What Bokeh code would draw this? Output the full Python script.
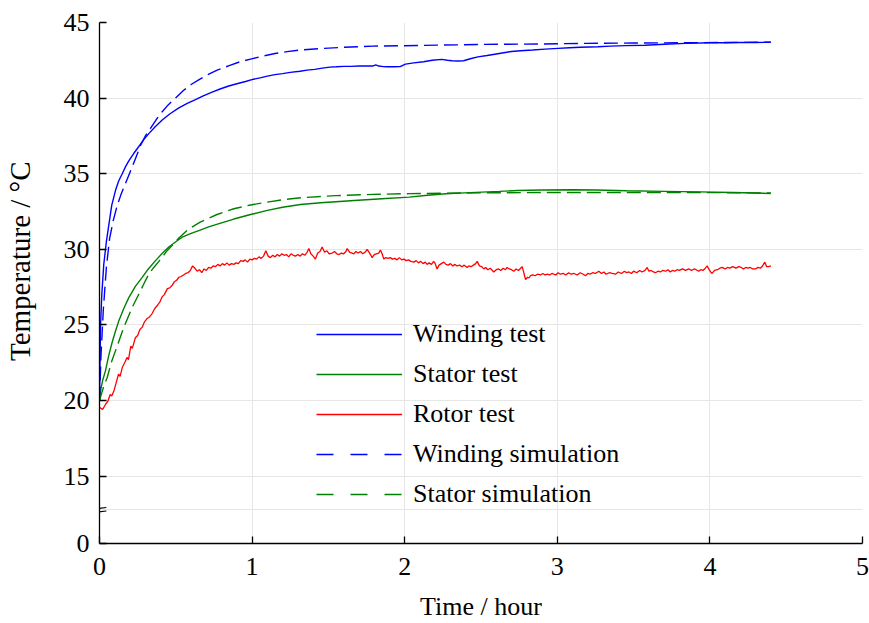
from bokeh.plotting import figure
from bokeh.models import Range1d, FixedTicker, Legend, LegendItem, ColumnDataSource, Arrow
from bokeh.embed import file_html
from bokeh.resources import INLINE

# ---------------- data ----------------
winding_test_t = [0, 0.003, 0.007, 0.015, 0.028, 0.045, 0.061, 0.08, 0.105, 0.125, 0.149, 0.17, 0.192,
                  0.225, 0.258, 0.29, 0.323, 0.365, 0.411, 0.46, 0.52, 0.575, 0.629, 0.68, 0.738, 0.79,
                  0.847, 0.9, 0.957, 1.01, 1.06, 1.1, 1.15, 1.2, 1.25, 1.314, 1.36, 1.41, 1.46, 1.51,
                  1.552, 1.6, 1.65, 1.7, 1.75, 1.79, 1.81, 1.83, 1.86, 1.886, 1.93, 1.97, 2.005, 2.06,
                  2.124, 2.18, 2.243, 2.28, 2.31, 2.35, 2.386, 2.43, 2.48, 2.54, 2.6, 2.648, 2.7, 2.76,
                  2.838, 2.92, 3.005, 3.08, 3.15, 3.267, 3.35, 3.45, 3.576, 3.7, 3.838, 4.005, 4.1, 4.2,
                  4.3, 4.398]
winding_test_v = [20.0, 22.5, 25.0, 27.0, 29.0, 30.5, 31.6, 32.9, 33.9, 34.5, 35.0, 35.45, 35.85,
                  36.35, 36.8, 37.25, 37.65, 38.1, 38.55, 38.95, 39.35, 39.65, 39.9, 40.15, 40.4, 40.6,
                  40.8, 40.95, 41.1, 41.25, 41.35, 41.45, 41.55, 41.62, 41.7, 41.78, 41.85, 41.9, 41.98,
                  42.05, 42.07, 42.1, 42.1, 42.12, 42.12, 42.12, 42.2, 42.12, 42.08, 42.07, 42.07, 42.08,
                  42.25, 42.33, 42.4, 42.5, 42.56, 42.5, 42.47, 42.45, 42.47, 42.6, 42.73, 42.82, 42.92,
                  43.0, 43.08, 43.13, 43.18, 43.24, 43.29, 43.33, 43.36, 43.4, 43.44, 43.47, 43.5, 43.56,
                  43.62, 43.66, 43.66, 43.68, 43.68, 43.69]

winding_sim_t = [0, 0.01, 0.025, 0.045, 0.066, 0.09, 0.116, 0.14, 0.17, 0.2, 0.236, 0.27, 0.301, 0.334,
                 0.37, 0.411, 0.45, 0.498, 0.55, 0.6, 0.65, 0.7, 0.771, 0.85, 0.92, 0.99, 1.07, 1.15,
                 1.23, 1.317, 1.45, 1.6, 1.79, 2.1, 2.505, 2.89, 3.2, 3.5, 3.8, 4.1, 4.4]
winding_sim_v = [20.0, 23.0, 26.0, 28.8, 30.7, 31.9, 32.9, 33.6, 34.35, 35.1, 36.0, 36.9, 37.5, 38.0,
                 38.55, 39.1, 39.55, 40.0, 40.5, 40.9, 41.2, 41.5, 41.85, 42.15, 42.4, 42.58, 42.78,
                 42.95, 43.07, 43.18, 43.28, 43.36, 43.44, 43.48, 43.55, 43.58, 43.62, 43.64, 43.66,
                 43.68, 43.7]

stator_test_t = [0, 0.008, 0.02, 0.039, 0.06, 0.083, 0.105, 0.126, 0.16, 0.192, 0.235, 0.28, 0.32,
                 0.367, 0.41, 0.454, 0.5, 0.542, 0.6, 0.651, 0.72, 0.8, 0.88, 0.99, 1.1, 1.2, 1.317,
                 1.45, 1.67, 1.85, 2.03, 2.15, 2.27, 2.39, 2.505, 2.62, 2.74, 2.9, 3.1, 3.25, 3.457,
                 3.7, 3.933, 4.15, 4.3, 4.398]
stator_test_v = [20.0, 20.7, 21.3, 21.96, 22.95, 23.85, 24.6, 25.25, 26.1, 26.8, 27.55, 28.14, 28.7,
                 29.25, 29.72, 30.15, 30.5, 30.8, 31.05, 31.24, 31.5, 31.75, 32.0, 32.3, 32.57, 32.78,
                 32.96, 33.08, 33.23, 33.34, 33.45, 33.57, 33.67, 33.73, 33.78, 33.83, 33.89, 33.92,
                 33.94, 33.92, 33.87, 33.83, 33.8, 33.76, 33.72, 33.69]

stator_sim_t = [0, 0.015, 0.03, 0.05, 0.08, 0.116, 0.159, 0.214, 0.258, 0.29, 0.323, 0.356, 0.389,
                0.443, 0.48, 0.52, 0.58, 0.66, 0.77, 0.88, 0.99, 1.1, 1.2, 1.317, 1.55, 1.79, 2.03,
                2.27, 2.6, 2.98, 3.4, 3.7, 4.0, 4.4]
stator_sim_v = [20.0, 20.5, 21.0, 21.5, 22.6, 23.6, 24.83, 26.15, 27.04, 27.7, 28.37, 28.8, 29.2,
                29.91, 30.3, 30.75, 31.3, 31.8, 32.3, 32.68, 32.93, 33.12, 33.28, 33.41, 33.55,
                33.63, 33.68, 33.71, 33.74, 33.76, 33.76, 33.76, 33.75, 33.72]

rotor_test_t = [0.0, 0.02, 0.04, 0.055, 0.07, 0.08, 0.095, 0.11, 0.125, 0.135, 0.15, 0.165, 0.18, 0.19,
                0.205, 0.215, 0.235, 0.25, 0.265, 0.28, 0.295, 0.31, 0.325, 0.345, 0.36, 0.38, 0.395,
                0.41, 0.425, 0.445, 0.46, 0.475, 0.49, 0.505, 0.52, 0.535, 0.55, 0.565, 0.58, 0.595,
                0.61, 0.625, 0.64, 0.655, 0.67, 0.685, 0.70, 0.715, 0.73, 0.745, 0.76, 0.775, 0.79,
                0.805, 0.82, 0.835, 0.85, 0.865, 0.88, 0.895, 0.91, 0.925, 0.94, 0.955, 0.97, 0.985,
                1.00, 1.015, 1.03, 1.045, 1.06, 1.075, 1.09, 1.105, 1.12, 1.135, 1.15, 1.165, 1.18,
                1.195, 1.21, 1.225, 1.24, 1.255, 1.27, 1.285, 1.30, 1.315, 1.33, 1.345, 1.36, 1.372,
                1.385, 1.40, 1.415, 1.43, 1.445, 1.459, 1.475, 1.49, 1.505, 1.525, 1.54, 1.555, 1.57,
                1.585, 1.60, 1.615, 1.623, 1.64, 1.655, 1.667, 1.68, 1.695, 1.71, 1.725, 1.74, 1.754,
                1.77, 1.787, 1.80, 1.815, 1.83, 1.841, 1.852, 1.863, 1.875, 1.89, 1.905, 1.92, 1.935,
                1.95, 1.965, 1.98, 1.995, 2.01, 2.025, 2.04, 2.06, 2.075, 2.09, 2.105, 2.12, 2.135,
                2.147, 2.16, 2.175, 2.19, 2.2, 2.212, 2.225, 2.24, 2.256, 2.27, 2.285, 2.30, 2.315,
                2.33, 2.343, 2.36, 2.375, 2.39, 2.409, 2.42, 2.435, 2.45, 2.465, 2.475, 2.49, 2.505,
                2.518, 2.53, 2.545, 2.56, 2.575, 2.584, 2.60, 2.615, 2.63, 2.645, 2.66, 2.671, 2.685,
                2.70, 2.715, 2.73, 2.745, 2.76, 2.77, 2.782, 2.792, 2.805, 2.815, 2.824, 2.84, 2.855,
                2.87, 2.89, 2.905, 2.92, 2.935, 2.95, 2.965, 2.977, 2.99, 3.005, 3.02, 3.04, 3.055,
                3.075, 3.09, 3.11, 3.13, 3.15, 3.17, 3.185, 3.20, 3.215, 3.23, 3.25, 3.272, 3.29,
                3.305, 3.32, 3.34, 3.36, 3.381, 3.40, 3.42, 3.44, 3.455, 3.469, 3.485, 3.50, 3.52,
                3.54, 3.555, 3.575, 3.589, 3.60, 3.615, 3.63, 3.643, 3.66, 3.675, 3.69, 3.71, 3.725,
                3.74, 3.753, 3.77, 3.785, 3.80, 3.82, 3.84, 3.862, 3.88, 3.895, 3.91, 3.927, 3.94,
                3.955, 3.97, 3.982, 3.995, 4.005, 4.015, 4.03, 4.05, 4.065, 4.08, 4.10, 4.115, 4.13,
                4.15, 4.17, 4.19, 4.205, 4.22, 4.235, 4.25, 4.265, 4.28, 4.299, 4.315, 4.33, 4.345,
                4.36, 4.372, 4.386, 4.40]
rotor_test_v = [19.55, 19.40, 19.75, 19.95, 20.40, 20.30, 20.65, 21.20, 21.75, 21.60, 22.20, 22.50,
                22.85, 22.70, 23.60, 23.45, 24.15, 24.30, 24.70, 24.85, 25.20, 25.40, 25.50, 25.75,
                26.05, 26.30, 26.50, 26.85, 27.00, 27.40, 27.45, 27.60, 27.85, 27.95, 28.15, 28.20,
                28.30, 28.40, 28.45, 28.60, 28.90, 28.75, 28.55, 28.65, 28.45, 28.70, 28.60, 28.80,
                28.75, 28.90, 28.85, 29.00, 28.90, 29.05, 28.95, 29.10, 28.95, 29.05, 29.00, 29.10,
                29.05, 29.25, 29.20, 29.30, 29.15, 29.35, 29.30, 29.40, 29.35, 29.50, 29.40, 29.55,
                29.90, 29.55, 29.45, 29.60, 29.50, 29.65, 29.55, 29.70, 29.60, 29.65, 29.50, 29.70,
                29.60, 29.55, 29.65, 29.55, 29.70, 29.60, 29.80, 30.05, 29.70, 29.55, 29.35, 29.75,
                29.85, 30.15, 29.80, 29.90, 29.70, 29.75, 29.85, 29.70, 29.65, 29.75, 29.70, 29.85,
                30.05, 29.80, 29.75, 29.70, 29.85, 29.75, 29.85, 29.70, 29.80, 30.00, 29.75, 29.45,
                29.65, 29.70, 29.75, 29.95, 29.70, 29.35, 29.45, 29.40, 29.45, 29.35, 29.40, 29.30,
                29.45, 29.30, 29.35, 29.25, 29.30, 29.20, 29.15, 29.25, 29.10, 29.20, 29.05, 29.15,
                29.00, 29.10, 29.00, 29.20, 29.05, 28.70, 28.95, 29.05, 29.15, 29.00, 28.95, 29.05,
                28.90, 29.00, 28.90, 28.95, 28.85, 28.95, 28.80, 28.90, 28.85, 28.95, 29.05, 29.20,
                28.90, 28.85, 28.70, 28.80, 28.65, 28.75, 28.60, 28.50, 28.65, 28.70, 28.60, 28.75,
                28.65, 28.80, 28.70, 28.65, 28.55, 28.70, 28.60, 28.75, 28.85, 28.40, 28.00, 28.15,
                28.10, 28.25, 28.30, 28.25, 28.35, 28.30, 28.40, 28.30, 28.35, 28.30, 28.40, 28.35,
                28.30, 28.45, 28.35, 28.40, 28.30, 28.45, 28.35, 28.40, 28.30, 28.45, 28.35, 28.25,
                28.40, 28.35, 28.45, 28.40, 28.55, 28.40, 28.50, 28.35, 28.45, 28.40, 28.35, 28.50,
                28.40, 28.55, 28.45, 28.50, 28.40, 28.55, 28.45, 28.60, 28.50, 28.60, 28.80, 28.55,
                28.60, 28.50, 28.45, 28.55, 28.50, 28.60, 28.55, 28.65, 28.50, 28.60, 28.55, 28.65,
                28.60, 28.70, 28.60, 28.70, 28.60, 28.70, 28.65, 28.55, 28.65, 28.60, 28.75, 28.90,
                28.65, 28.50, 28.40, 28.60, 28.65, 28.75, 28.80, 28.70, 28.80, 28.75, 28.85, 28.75,
                28.85, 28.80, 28.70, 28.80, 28.75, 28.80, 28.70, 28.70, 28.80, 28.75, 28.90, 29.15,
                28.85, 28.85, 28.90]

x_ticks = [0, 1, 2, 3, 4, 5]
y_ticks = [15, 20, 25, 30, 35, 40, 45]
y_zero_pos = 10.54      # position of the "0" label below the axis break
y_break_pos = 12.78     # where the axis break is drawn

FONT = "Liberation Serif"
BLUE = "#0000ff"
GREEN = "#008000"
RED = "#ff0000"

p = figure(width=869, height=623, output_backend="svg", toolbar_location=None,
           x_range=Range1d(0, 5), y_range=Range1d(y_zero_pos, 45),
           min_border_left=99, min_border_right=7, min_border_top=22, min_border_bottom=80)
p.outline_line_color = None
p.background_fill_color = "white"

lw = 1.4
r_wt = p.line(winding_test_t, winding_test_v, line_color=BLUE, line_width=lw)
r_st = p.line(stator_test_t, stator_test_v, line_color=GREEN, line_width=lw)
r_rt = p.line(rotor_test_t, rotor_test_v, line_color=RED, line_width=1.3)
r_ws = p.line(winding_sim_t, winding_sim_v, line_color=BLUE, line_width=lw, line_dash="14 6")
r_ss = p.line(stator_sim_t, stator_sim_v, line_color=GREEN, line_width=lw, line_dash="14 6")

# legend-only proxies with the legend's dash pattern (nothing visible is drawn)
nan = float("nan")
proxy = ColumnDataSource(data=dict(x=[nan], y=[nan]))
l_ws = p.line("x", "y", source=proxy, line_color=BLUE, line_width=lw, line_dash="17 17")
l_ss = p.line("x", "y", source=proxy, line_color=GREEN, line_width=lw, line_dash="17 17")

# axis break marks (two short slanted strokes across the y axis)
for dy in (-0.13, 0.1):
    p.add_layout(Arrow(end=None, start=None, x_start=-0.018, y_start=y_break_pos + dy - 0.04,
                       x_end=0.045, y_end=y_break_pos + dy + 0.04,
                       line_color="black", line_width=1.2))

# axes
for ax in (p.xaxis[0], p.yaxis[0]):
    ax.major_label_text_font = FONT
    ax.major_label_text_font_size = "26px"
    ax.axis_label_text_font = FONT
    ax.axis_label_text_font_size = "26px"
    ax.axis_label_text_font_style = "normal"
    ax.major_tick_in = 7
    ax.major_tick_out = 0
    ax.minor_tick_line_color = None
    ax.axis_line_color = "black"
    ax.axis_line_width = 1.3
    ax.major_tick_line_width = 1.3
    ax.major_label_text_color = "black"
    ax.axis_label_text_color = "black"

p.yaxis.axis_label_text_font_size = "29px"
p.xaxis.ticker = FixedTicker(ticks=x_ticks)
p.yaxis.ticker = FixedTicker(ticks=[y_zero_pos] + y_ticks)
p.yaxis.major_label_overrides = {y_zero_pos: "0"}
p.xaxis.axis_label = "Time / hour"
# leading no-break spaces lift the visible title a little, as in the reference
p.yaxis.axis_label = "\u00a0" * 6 + "Temperature / \u00b0C"
p.xaxis.major_label_standoff = 14
p.yaxis.major_label_standoff = 10
p.xaxis.axis_label_standoff = 14
p.yaxis.axis_label_standoff = 25

p.xgrid.ticker = FixedTicker(ticks=x_ticks)
p.ygrid.ticker = FixedTicker(ticks=[y_break_pos] + y_ticks)
for g in (p.xgrid[0], p.ygrid[0]):
    g.grid_line_color = "#e6e6e6"
    g.grid_line_width = 1

legend = Legend(items=[
    LegendItem(label="Winding test", renderers=[r_wt]),
    LegendItem(label="Stator test", renderers=[r_st]),
    LegendItem(label="Rotor test", renderers=[r_rt]),
    LegendItem(label="Winding simulation", renderers=[l_ws]),
    LegendItem(label="Stator simulation", renderers=[l_ss]),
], location=(217, 34))
legend.label_text_font = FONT
legend.label_text_font_size = "26px"
legend.label_text_color = "black"
legend.glyph_width = 86
legend.glyph_height = 30
legend.label_height = 30
legend.spacing = 10
legend.label_standoff = 11
legend.padding = 0
legend.margin = 0
legend.border_line_color = None
legend.background_fill_alpha = 0
legend.click_policy = "none"
p.add_layout(legend, "center")

open("out.html", "w").write(file_html(p, INLINE))
